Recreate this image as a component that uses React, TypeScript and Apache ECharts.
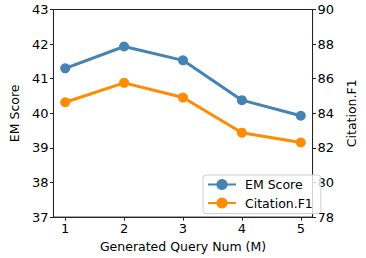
import React, { useEffect, useRef } from "react";
import * as echarts from "echarts";

const queryNums = [1, 2, 3, 4, 5];
const emScore = [41.3, 41.93, 41.53, 40.38, 39.93];
const citationF1 = [84.64, 85.76, 84.91, 82.88, 82.31];
const leftTicks = [37, 38, 39, 40, 41, 42, 43];
const rightTicks = [78, 80, 82, 84, 86, 88, 90];

const FONT = "DejaVu Sans";
const FS = 12.5;
const TFS = 13;
const AX = "#222";

export default function App() {
  const ref = useRef<HTMLDivElement>(null);
  useEffect(() => {
    if (!ref.current) return;
    const chart = echarts.init(ref.current, null, { renderer: "svg" });
    chart.setOption({
      animation: false,
      textStyle: { fontFamily: FONT },
      grid: {
        left: 40,
        right: 40,
        top: 9.5,
        bottom: 36.5,
        show: true,
        borderColor: AX,
        borderWidth: 1,
        backgroundColor: "transparent",
      },
      legend: {
        orient: "vertical",
        left: 203,
        top: 175,
        width: 116,
        padding: [3, 8, 4, 4],
        itemGap: 5.5,
        itemWidth: 28,
        itemHeight: 14,
        backgroundColor: "rgba(255,255,255,0.8)",
        borderColor: "#d0d0d0",
        borderWidth: 1,
        borderRadius: 3,
        textStyle: { fontFamily: FONT, fontSize: FS, color: "#000", padding: [0, 0, 0, 4] },
        data: ["EM Score", "Citation.F1"],
      },
      xAxis: {
        type: "value",
        min: 0.8,
        max: 5.2,
        name: "Generated Query Num (M)",
        nameLocation: "middle",
        nameGap: 17,
        nameTextStyle: { fontFamily: FONT, fontSize: FS, color: "#000", verticalAlign: "top" },
        axisLine: { show: true, lineStyle: { color: AX } },
        axisTick: { show: true, length: 3.5, lineStyle: { color: AX }, customValues: queryNums },
        axisLabel: { fontFamily: FONT, fontSize: TFS, color: "#000", margin: 5, customValues: queryNums },
        splitLine: { show: false },
      },
      yAxis: [
        {
          type: "value",
          min: leftTicks[0],
          max: leftTicks[leftTicks.length - 1],
          interval: 1,
          name: "EM Score",
          nameLocation: "middle",
          nameGap: 31,
          nameTextStyle: { fontFamily: FONT, fontSize: FS, color: "#000" },
          axisLine: { show: true, lineStyle: { color: AX } },
          axisTick: { show: true, length: 3.5, lineStyle: { color: AX } },
          axisLabel: { fontFamily: FONT, fontSize: TFS, color: "#000", margin: 5 },
          splitLine: { show: false },
        },
        {
          type: "value",
          min: rightTicks[0],
          max: rightTicks[rightTicks.length - 1],
          interval: 2,
          position: "right",
          name: "Citation.F1",
          nameLocation: "middle",
          nameGap: 22,
          nameRotate: 90,
          nameTextStyle: { fontFamily: FONT, fontSize: FS, color: "#000" },
          axisLine: { show: true, lineStyle: { color: AX } },
          axisTick: { show: true, length: 3.5, lineStyle: { color: AX } },
          axisLabel: { fontFamily: FONT, fontSize: TFS, color: "#000", margin: 5 },
          splitLine: { show: false },
        },
      ],
      series: [
        {
          name: "EM Score",
          type: "line",
          yAxisIndex: 0,
          data: queryNums.map((x, i) => [x, emScore[i]]),
          symbol: "circle",
          symbolSize: 10,
          lineStyle: { width: 3, color: "#4682b4" },
          itemStyle: { color: "#4682b4" },
        },
        {
          name: "Citation.F1",
          type: "line",
          yAxisIndex: 1,
          data: queryNums.map((x, i) => [x, citationF1[i]]),
          symbol: "circle",
          symbolSize: 10,
          lineStyle: { width: 3, color: "#ff8c00" },
          itemStyle: { color: "#ff8c00" },
        },
      ],
    });
    return () => chart.dispose();
  }, []);
  return <div ref={ref} style={{ width: 366, height: 258, position: "absolute", left: 0, top: 0 }} />;
}
